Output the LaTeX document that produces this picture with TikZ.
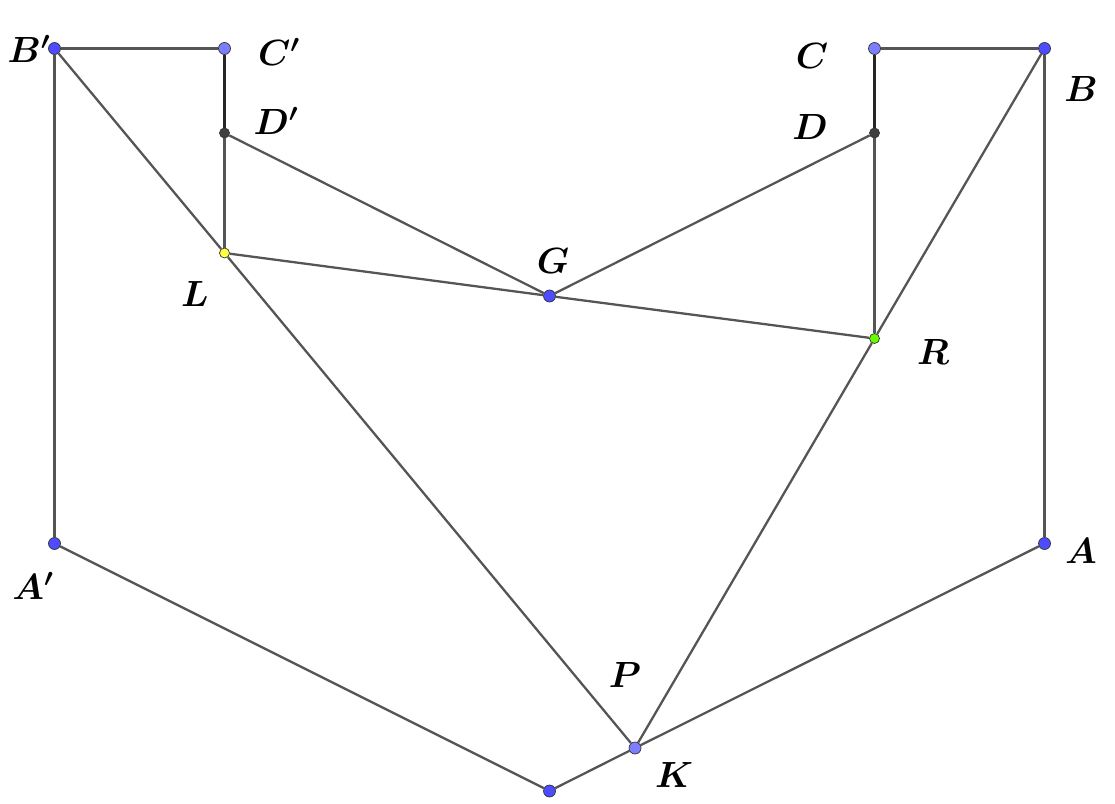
\documentclass[tikz,border=0pt]{standalone}
\usepackage{tikz}

\definecolor{ptblue}{HTML}{4D4DFF}
\definecolor{ptlight}{HTML}{7D7DFF}
\definecolor{ptdark}{HTML}{404040}
\definecolor{ptyellow}{HTML}{FFFF40}
\definecolor{ptgreen}{HTML}{66FF00}
\definecolor{segcol}{HTML}{555555}

\tikzset{
	pt/.style={circle, draw=black!80, line width=0.4pt, inner sep=0pt, minimum size=0.24cm},
	ptsmall/.style={pt, minimum size=0.2cm},
	lbl/.style={inner sep=0pt, font=\fontsize{22}{25}\selectfont\boldmath},
	seg/.style={segcol, line width=1.3pt},
}

\begin{document}
\begin{tikzpicture}[x=0.02cm, y=-0.02cm]

	\useasboundingbox (0,0) rectangle (1115,804);

	% Points
	\node [pt, fill=ptblue] (Bp) at (54.5,48.5) {};
	\node [pt, fill=ptlight] (Cp) at (224.5,48.5) {};
	\node [ptsmall, fill=ptdark] (Dp) at (224.5,133) {};
	\node [ptsmall, fill=ptyellow] (L) at (224.5,253) {};
	\node [pt, fill=ptblue] (G) at (549.5,296) {};
	\node [ptsmall, fill=ptgreen] (R) at (874.5,338.5) {};
	\node [ptsmall, fill=ptdark] (D) at (874.5,133) {};
	\node [pt, fill=ptlight] (C) at (874.5,48.5) {};
	\node [pt, fill=ptblue] (B) at (1044.5,48.5) {};
	\node [pt, fill=ptblue] (A) at (1044.5,543.5) {};
	\node [pt, fill=ptblue] (Ap) at (54.5,543.5) {};
	\node [pt, fill=ptblue] (K) at (549.5,791) {};
	\node [pt, fill=ptlight] (P) at (635,748) {};

	% Outline
	\draw [seg] (Bp)--(Cp);
	\draw [seg] (C)--(B);
	\draw [seg] (Bp)--(Ap);
	\draw [seg] (B)--(A);
	\draw [seg] (Ap)--(K);
	\draw [seg] (K)--(P);
	\draw [seg] (P)--(A);

	% Dark pieces
	\draw [line width=1.4pt, black!85] (Cp)--(Dp);
	\draw [line width=1.4pt, black!85] (C)--(D);

	% Inner lines
	\draw [seg] (Dp)--(L);
	\draw [seg] (D)--(R);
	\draw [seg] (Bp)--(L);
	\draw [seg] (L)--(P);
	\draw [seg] (B)--(R);
	\draw [seg] (R)--(P);
	\draw [seg] (Dp)--(G);
	\draw [seg] (D)--(G);
	\draw [seg] (L)--(G);
	\draw [seg] (R)--(G);

	% Labelling
	\node [lbl] (lBp) at (29,49) {$B'$};
	\node [lbl] (lCp) at (279,52) {$C'$};
	\node [lbl] (lDp) at (276,121) {$D'$};
	\node [lbl] (lL) at (195,294) {$L$};
	\node [lbl] (lG) at (553,261) {$G$};
	\node [lbl] (lC) at (812,56) {$C$};
	\node [lbl] (lD) at (810,127) {$D$};
	\node [lbl] (lB) at (1081,89) {$B$};
	\node [lbl] (lR) at (933,352) {$R$};
	\node [lbl] (lA) at (1081,551) {$A$};
	\node [lbl] (lAp) at (33,586) {$A'$};
	\node [lbl] (lP) at (625,675) {$P$};
	\node [lbl] (lK) at (674,775) {$K$};

\end{tikzpicture}
\end{document}
